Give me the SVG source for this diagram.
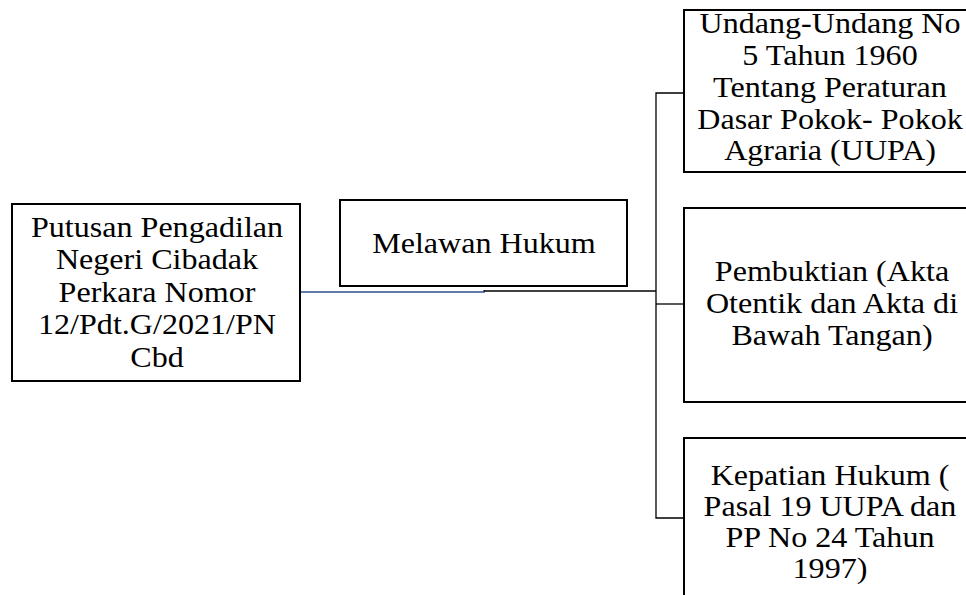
<svg xmlns="http://www.w3.org/2000/svg" width="966" height="595" viewBox="0 0 966 595">
<style>
.box{fill:#fff;stroke:#000;stroke-width:2}
.t{font-family:"Liberation Serif","Times New Roman",serif;font-size:30px;fill:#000;text-anchor:middle}
.c{fill:none;stroke:#000;stroke-width:1.3}
.cb{fill:none;stroke:#2f4f8f;stroke-width:1.6}
</style>
<rect width="966" height="595" fill="#fff"/>
<g id="connectors">
<path class="cb" d="M300 292 H484 V290"/>
<path class="c" d="M484 291 H656"/>
<path class="c" d="M684 93 H656 V518 H684"/>
<path class="c" d="M656 304 H684"/>
</g>
<g id="putusan">
<rect class="box" x="12" y="204" width="288" height="177"/>
<g transform="translate(157,0) scale(1.07,1)">
<text class="t" x="0" y="237">Putusan Pengadilan</text>
<text class="t" x="0" y="269.5">Negeri Cibadak</text>
<text class="t" x="0" y="302">Perkara Nomor</text>
<text class="t" x="0" y="334.5">12/Pdt.G/2021/PN</text>
<text class="t" x="0" y="367">Cbd</text>
</g>
</g>
<g id="melawan">
<rect class="box" x="340" y="200" width="287" height="86"/>
<g transform="translate(484,0) scale(1.07,1)">
<text class="t" x="0" y="253">Melawan Hukum</text>
</g>
</g>
<g id="uupa">
<rect class="box" x="684" y="10" width="295" height="162"/>
<g transform="translate(830,0) scale(1.07,1)">
<text class="t" x="0" y="33">Undang-Undang No</text>
<text class="t" x="0" y="65">5 Tahun 1960</text>
<text class="t" x="0" y="97">Tentang Peraturan</text>
<text class="t" x="0" y="129">Dasar Pokok- Pokok</text>
<text class="t" x="0" y="160.5">Agraria (UUPA)</text>
</g>
</g>
<g id="pembuktian">
<rect class="box" x="684" y="208" width="295" height="194"/>
<g transform="translate(832,0) scale(1.07,1)">
<text class="t" x="0" y="281.5">Pembuktian (Akta</text>
<text class="t" x="0" y="313.5">Otentik dan Akta di</text>
<text class="t" x="0" y="345">Bawah Tangan)</text>
</g>
</g>
<g id="kepatian">
<rect class="box" x="684" y="438" width="295" height="170"/>
<g transform="translate(830,0) scale(1.07,1)">
<text class="t" x="0" y="485">Kepatian Hukum (</text>
<text class="t" x="0" y="516.5">Pasal 19 UUPA dan</text>
<text class="t" x="0" y="547">PP No 24 Tahun</text>
<text class="t" x="0" y="578">1997)</text>
</g>
</g>
</svg>
